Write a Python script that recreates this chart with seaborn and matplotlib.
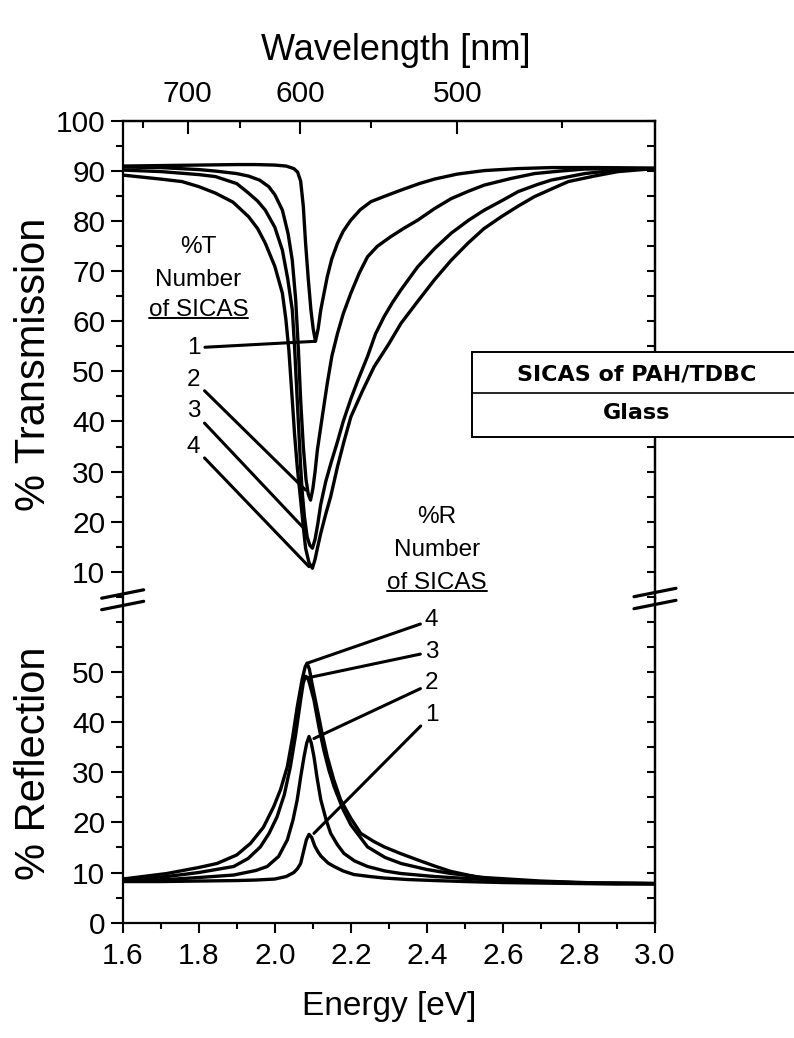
import numpy as np
import pandas as pd
import matplotlib
matplotlib.use("Agg")
import matplotlib.pyplot as plt
import seaborn as sns
from matplotlib.lines import Line2D
from matplotlib.patches import Rectangle
from matplotlib.ticker import MultipleLocator, FixedLocator

# ---------------- data ----------------
T1_E = [1.60, 1.70, 1.80, 1.90, 1.95, 2.00, 2.03, 2.05, 2.06, 2.068, 2.075, 2.081, 2.088, 2.095, 2.101, 2.107,
        2.114, 2.121, 2.13, 2.138, 2.15, 2.165, 2.18, 2.20, 2.225, 2.253, 2.29, 2.332, 2.38, 2.42, 2.48, 2.551,
        2.64, 2.727, 2.85, 3.00]
T1 = [91.0, 91.1, 91.2, 91.3, 91.3, 91.2, 91.0, 90.5, 89.8, 88.0, 83.0, 75.6, 68.5, 62.3, 58.5, 56.0,
      58.5, 62.3, 65.8, 68.9, 72.5, 75.6, 78.0, 80.2, 82.3, 83.9, 85.0, 86.2, 87.5, 88.4, 89.4, 90.1,
      90.5, 90.7, 90.7, 90.6]

T2_E = [1.60, 1.70, 1.80, 1.844, 1.90, 1.931, 1.96, 1.984, 2.00, 2.02, 2.035, 2.046, 2.055, 2.062, 2.068,
        2.075, 2.082, 2.088, 2.094, 2.10, 2.106, 2.112, 2.125, 2.138, 2.15, 2.165, 2.18, 2.20, 2.222, 2.244,
        2.27, 2.305, 2.34, 2.376, 2.42, 2.464, 2.51, 2.551, 2.62, 2.683, 2.75, 2.815, 2.90, 3.00]
T2 = [90.8, 90.7, 90.3, 90.0, 89.5, 89.0, 88.2, 86.9, 85.3, 82.2, 77.5, 72.2, 64.3, 54.5, 44.3,
      35.0, 28.5, 25.5, 24.3, 26.5, 30.0, 34.3, 41.0, 47.6, 53.0, 57.6, 61.5, 65.6, 69.6, 72.9,
      75.0, 76.9, 78.6, 80.2, 82.5, 84.5, 86.0, 87.2, 88.5, 89.5, 90.0, 90.4, 90.5, 90.5]

T3_E = [1.60, 1.70, 1.80, 1.844, 1.90, 1.931, 1.955, 1.975, 2.00, 2.02, 2.034, 2.046, 2.052, 2.059, 2.064,
        2.068, 2.072, 2.078, 2.085, 2.092, 2.099, 2.106, 2.113, 2.121, 2.134, 2.147, 2.165, 2.18, 2.20,
        2.22, 2.244, 2.265, 2.288, 2.31, 2.332, 2.376, 2.42, 2.464, 2.51, 2.551, 2.60, 2.64, 2.69, 2.727,
        2.815, 2.90, 3.00]
T3 = [90.2, 89.9, 89.3, 88.9, 87.5, 85.6, 84.0, 82.2, 78.8, 74.2, 68.5, 62.3, 55.0, 44.3, 37.0,
      31.0, 26.0, 21.0, 17.0, 15.3, 14.7, 16.5, 19.5, 23.5, 28.0, 31.5, 36.0, 40.0, 44.5,
      48.5, 53.0, 57.5, 61.0, 63.8, 66.3, 70.9, 74.5, 77.6, 80.2, 82.2, 84.2, 85.9, 87.3, 88.2,
      89.5, 90.2, 90.5]

T4_E = [1.60, 1.70, 1.756, 1.80, 1.844, 1.89, 1.931, 1.955, 1.975, 2.00, 2.02, 2.029, 2.037, 2.046, 2.052,
        2.059, 2.068, 2.075, 2.081, 2.09, 2.099, 2.106, 2.113, 2.121, 2.134, 2.147, 2.165, 2.182, 2.20,
        2.23, 2.261, 2.30, 2.332, 2.376, 2.42, 2.464, 2.508, 2.55, 2.596, 2.64, 2.683, 2.73, 2.772, 2.84,
        2.903, 3.00]
T4 = [89.2, 88.4, 87.9, 86.9, 85.6, 83.8, 80.9, 78.5, 75.6, 71.0, 65.6, 60.5, 54.3, 44.3, 37.5,
      31.0, 24.3, 19.0, 14.7, 11.8, 10.7, 12.5, 15.0, 17.7, 21.5, 25.0, 31.0, 36.0, 40.9,
      46.0, 50.9, 55.5, 59.6, 64.0, 68.3, 72.2, 75.6, 78.5, 80.9, 83.0, 84.9, 86.5, 87.9, 89.0,
      89.9, 90.5]

R1_E = [1.60, 1.70, 1.80, 1.90, 1.95, 2.00, 2.03, 2.05, 2.06, 2.068, 2.075, 2.083, 2.09, 2.097, 2.105,
        2.113, 2.121, 2.14, 2.156, 2.18, 2.208, 2.25, 2.288, 2.35, 2.42, 2.50, 2.60, 2.70, 2.80, 2.90, 3.00]
R1 = [8.2, 8.2, 8.3, 8.4, 8.5, 8.7, 9.2, 10.0, 10.8, 11.8, 14.0, 16.5, 17.6, 17.0, 15.3,
      14.2, 13.3, 11.9, 11.2, 10.3, 9.6, 9.2, 8.9, 8.6, 8.4, 8.2, 8.0, 7.9, 7.8, 7.7, 7.7]

R2_E = [1.60, 1.716, 1.80, 1.892, 1.95, 1.98, 2.01, 2.033, 2.048, 2.059, 2.068, 2.077, 2.084, 2.09, 2.096,
        2.103, 2.112, 2.121, 2.135, 2.147, 2.165, 2.182, 2.21, 2.244, 2.29, 2.332, 2.42, 2.55, 2.70, 2.85, 3.00]
R2 = [8.4, 8.6, 9.0, 9.5, 10.4, 11.2, 13.2, 16.5, 20.5, 24.5, 29.0, 33.1, 35.8, 37.1, 35.8,
      33.1, 28.5, 24.5, 20.5, 17.8, 15.5, 13.8, 12.3, 11.2, 10.3, 9.8, 9.2, 8.6, 8.1, 7.9, 7.8]

R3_E = [1.60, 1.716, 1.80, 1.892, 1.93, 1.962, 1.985, 2.006, 2.025, 2.041, 2.055, 2.068, 2.075, 2.081, 2.087,
        2.092, 2.103, 2.116, 2.129, 2.142, 2.156, 2.18, 2.20, 2.244, 2.29, 2.332, 2.40, 2.464, 2.55, 2.70,
        2.85, 3.00]
R3 = [8.5, 9.2, 10.0, 11.2, 12.8, 15.1, 17.8, 21.1, 25.5, 31.1, 37.5, 44.4, 47.8, 49.1, 48.8,
      47.5, 44.4, 39.0, 34.4, 30.5, 27.1, 22.5, 19.5, 15.1, 13.0, 11.8, 10.6, 9.8, 9.0, 8.3,
      7.9, 7.8]

R4_E = [1.60, 1.716, 1.80, 1.848, 1.90, 1.936, 1.97, 1.997, 2.015, 2.033, 2.047, 2.059, 2.072, 2.08, 2.085,
        2.091, 2.097, 2.112, 2.125, 2.138, 2.155, 2.173, 2.20, 2.226, 2.26, 2.288, 2.33, 2.376, 2.42, 2.464,
        2.551, 2.70, 2.85, 3.00]
R4 = [8.7, 9.8, 11.0, 11.8, 13.5, 15.8, 19.0, 23.1, 26.5, 31.1, 37.0, 43.0, 48.5, 51.0, 51.7,
      50.5, 48.0, 42.4, 37.5, 33.1, 28.5, 24.5, 20.8, 17.8, 16.2, 15.1, 13.8, 12.5, 11.3, 10.2,
      8.8, 8.1, 7.9, 7.8]

energy_ticks = [1.6, 1.8, 2.0, 2.2, 2.4, 2.6, 2.8, 3.0]
wavelength_ticks = [700, 600, 500]
wavelength_minor = [750, 650, 550, 450]
T_ticks = [10, 20, 30, 40, 50, 60, 70, 80, 90, 100]
R_ticks = [0, 10, 20, 30, 40, 50]

# labels / leader lines (number of SICAS)
T_labels = ["1", "2", "3", "4"]
T_label_pos = [(1.804, 54.7), (1.804, 48.3), (1.804, 42.0), (1.804, 35.0)]
T_label_end = [(2.105, 56.0), (2.081, 26.3), (2.081, 18.3), (2.09, 11.0)]
R_labels = ["4", "3", "2", "1"]
R_label_pos = [(2.395, 60.3), (2.395, 54.0), (2.395, 47.7), (2.395, 41.4)]
R_label_end = [(2.085, 51.7), (2.081, 48.7), (2.103, 36.7), (2.103, 17.8)]

# ---------------- style ----------------
sns.set_theme(style="ticks")
plt.rcParams.update({
    "font.family": ["Liberation Sans", "DejaVu Sans"],
    "axes.edgecolor": "black",
    "axes.linewidth": 1.6,
    "xtick.color": "black",
    "ytick.color": "black",
    "text.color": "black",
    "axes.labelcolor": "black",
})

W, H = 794, 1038
fig = plt.figure(figsize=(W / 100, H / 100), dpi=100)


def px_rect(l, t, r, b):
    return [l / W, 1 - b / H, (r - l) / W, (b - t) / H]


ax_top = fig.add_axes(px_rect(122.7, 121, 655, 598))
ax_bot = fig.add_axes(px_rect(122.7, 598, 655, 922.7))

trans = pd.concat([
    pd.DataFrame({"Energy": e, "T": t, "n": n})
    for e, t, n in [(T1_E, T1, "1"), (T2_E, T2, "2"), (T3_E, T3, "3"), (T4_E, T4, "4")]
])
refl = pd.concat([
    pd.DataFrame({"Energy": e, "R": r, "n": n})
    for e, r, n in [(R1_E, R1, "1"), (R2_E, R2, "2"), (R3_E, R3, "3"), (R4_E, R4, "4")]
])
pal = {"1": "black", "2": "black", "3": "black", "4": "black"}
sns.lineplot(data=trans, x="Energy", y="T", hue="n", palette=pal, estimator=None,
             legend=False, ax=ax_top, lw=2.4)
sns.lineplot(data=refl, x="Energy", y="R", hue="n", palette=pal, estimator=None,
             legend=False, ax=ax_bot, lw=2.4)

# ---------------- axes ----------------
for ax in (ax_top, ax_bot):
    ax.set_xlim(1.6, 3.0)
    ax.set_xlabel("")
    ax.set_ylabel("")
ax_top.set_ylim(4.75, 100)
ax_bot.set_ylim(0, 64.7)

ax_top.spines["bottom"].set_visible(False)
ax_bot.spines["top"].set_visible(False)

ax_top.set_yticks(T_ticks)
ax_top.yaxis.set_minor_locator(MultipleLocator(5))
ax_top.tick_params(axis="x", which="both", bottom=False, top=False, labelbottom=False)
ax_bot.set_yticks(R_ticks)
ax_bot.yaxis.set_minor_locator(MultipleLocator(5))
ax_bot.set_xticks(energy_ticks)
ax_bot.set_xticklabels([f"{v:.1f}" for v in energy_ticks])
ax_bot.xaxis.set_minor_locator(MultipleLocator(0.1))
ax_bot.tick_params(axis="x", which="major", direction="out", length=7, width=1.5,
                   labelsize=21.5, pad=7, top=False)
ax_bot.tick_params(axis="x", which="minor", direction="out", length=4.5, width=1.5, top=False)

for ax in (ax_top, ax_bot):
    ax.tick_params(axis="y", which="major", direction="out", length=8.5, width=1.5,
                   labelsize=21.5, pad=4, right=False)
    ax.tick_params(axis="y", which="minor", direction="out", length=5, width=1.5, right=False)
    sec = ax.secondary_yaxis("right")
    sec.yaxis.set_major_locator(MultipleLocator(5))
    sec.tick_params(axis="y", which="both", direction="in", length=6, width=1.5,
                    labelright=False)

# wavelength axis on top
def e2l(e):
    e = np.asarray(e, dtype=float)
    with np.errstate(divide="ignore", invalid="ignore"):
        return 1239.84 / e


wl = ax_top.secondary_xaxis("top", functions=(e2l, e2l))
wl.set_xticks(wavelength_ticks)
wl.set_xticklabels([str(v) for v in wavelength_ticks])
wl.xaxis.set_minor_locator(FixedLocator(wavelength_minor))
wl.tick_params(axis="x", which="major", direction="in", length=9, width=1.5, labelsize=21.5, pad=9)
wl.tick_params(axis="x", which="minor", direction="in", length=5, width=1.5)
wl.set_xlabel("Wavelength [nm]", fontsize=26, labelpad=15)
wl.xaxis.label.set_x((396 - 122.7) / 532.3)

ax_top.set_ylabel("% Transmission", fontsize=30, va="center", ha="center")
ax_top.yaxis.set_label_coords((34 - 122.7) / 532.3, 0.49)
ax_bot.set_ylabel("% Reflection", fontsize=30, va="center", ha="center")
ax_bot.yaxis.set_label_coords((34 - 122.7) / 532.3, 0.49)
ax_bot.set_xlabel("Energy [eV]", fontsize=24, va="top")
ax_bot.xaxis.set_label_coords(0.5, (922.7 - 991) / 324.7)

# ---------------- annotations ----------------
fs = 17.5
ax_top.text(1.799, 74.8, "%T", ha="center", va="center", fontsize=fs)
ax_top.text(1.799, 68.3, "Number", ha="center", va="center", fontsize=fs)
uT = ax_top.text(1.799, 62.3, "of SICAS", ha="center", va="center", fontsize=fs)
ax_top.text(2.426, 21.0, "%R", ha="center", va="center", fontsize=fs)
ax_top.text(2.426, 14.3, "Number", ha="center", va="center", fontsize=fs)
uR = ax_top.text(2.426, 7.75, "of SICAS", ha="center", va="center", fontsize=fs)

for lab, pos, end in zip(T_labels, T_label_pos, T_label_end):
    ax_top.annotate(lab, xy=end, xytext=pos, ha="right", va="center", fontsize=fs,
                    arrowprops=dict(arrowstyle="-", color="black", lw=2.2, shrinkA=1, shrinkB=0))
for lab, pos, end in zip(R_labels, R_label_pos, R_label_end):
    ax_bot.annotate(lab, xy=end, xytext=pos, ha="left", va="center", fontsize=fs,
                    annotation_clip=False,
                    arrowprops=dict(arrowstyle="-", color="black", lw=2.2, shrinkA=1, shrinkB=0))

# legend-like box for the sample structure
bx0, by_top, by_mid, by_bot = 471.7, 351.7, 393.3, 436.7
fig.add_artist(Rectangle((bx0 / W, 1 - by_bot / H), (W - bx0 + 10) / W, (by_bot - by_top) / H,
                         transform=fig.transFigure, facecolor="white", edgecolor="black",
                         lw=1.4, zorder=10, clip_on=False))
fig.add_artist(Line2D([bx0 / W, 1.0], [1 - by_mid / H, 1 - by_mid / H], transform=fig.transFigure,
                      color="black", lw=1.2, zorder=11))
fig.text(636.7 / W, 1 - 374 / H, "SICAS of PAH/TDBC", ha="center", va="center",
         fontsize=16, fontweight="bold", family="DejaVu Sans", zorder=12)
fig.text(636.7 / W, 1 - 413 / H, "Glass", ha="center", va="center",
         fontsize=16, fontweight="bold", family="DejaVu Sans", zorder=12)

# axis break marks
for xc, yc in [(122.7, 594), (122.7, 605.5), (655, 592.5), (655, 604.5)]:
    fig.add_artist(Line2D([(xc - 21) / W, (xc + 21) / W], [1 - (yc + 4.2) / H, 1 - (yc - 4.2) / H],
                          transform=fig.transFigure, color="black", lw=2.3, zorder=12))

# underline "of SICAS"
fig.canvas.draw()
renderer = fig.canvas.get_renderer()
for t in (uT, uR):
    bb = t.get_window_extent(renderer)
    y = bb.y0 + 3.2
    fig.add_artist(Line2D([bb.x0 / W, bb.x1 / W], [y / H, y / H], transform=fig.transFigure,
                          color="black", lw=1.4, zorder=12))

fig.savefig("out.png", dpi=100)
